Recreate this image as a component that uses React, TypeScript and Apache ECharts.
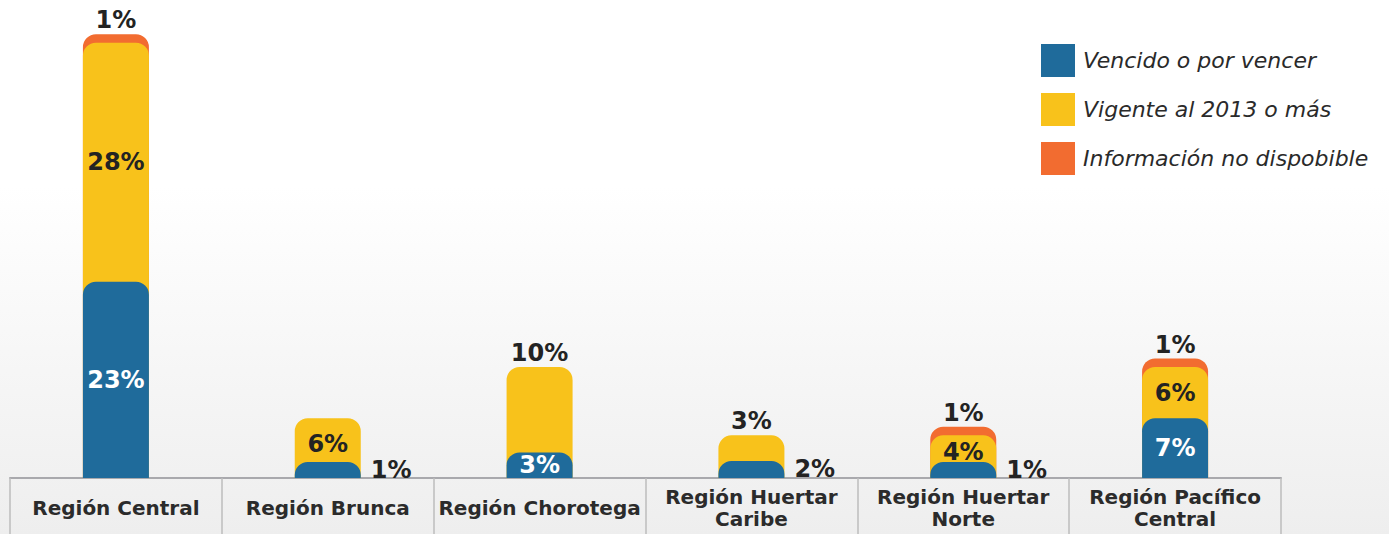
import React, { useEffect, useRef } from 'react';
import * as echarts from 'echarts';

const categories = [
  'Región Central',
  'Región Brunca',
  'Región Chorotega',
  'Región Huertar\nCaribe',
  'Región Huertar\nNorte',
  'Región Pacífico\nCentral',
];
const seriesNames = ['Vencido o por vencer', 'Vigente al 2013 o más', 'Información no dispobible'];
const vencido = [23, 1, 3, 2, 1, 7];
const vigente = [28, 6, 10, 3, 4, 6];
const noDisponible = [1, 0, 0, 0, 1, 1];

const BLUE = '#1f6b9b';
const YELLOW = '#f8c21b';
const ORANGE = '#f26c30';
const DARK = '#232323';
const FONT = '"DejaVu Sans", "Open Sans", sans-serif';

// label placement for the yellow segment: above the bar in these categories
const yellowAbove = [false, false, true, true, false, false];

export default function App() {
  const ref = useRef<HTMLDivElement>(null);
  useEffect(() => {
    if (!ref.current) return;
    const chart = echarts.init(ref.current, null, { renderer: 'svg' });
    const cumYellow = vencido.map((v, i) => v + vigente[i]);
    const cumOrange = cumYellow.map((v, i) => (noDisponible[i] > 0 ? v + noDisponible[i] : '-'));
    const labelBase = { fontFamily: FONT, fontSize: 24, fontWeight: 'bold' as const, color: DARK };
    const common = { type: 'bar' as const, barWidth: 66, barGap: '-100%' };
    const radius = [13, 13, 0, 0];

    chart.setOption({
      animation: false,
      grid: { left: 10, right: 108, top: 0, bottom: 56 },
      legend: {
        orient: 'vertical',
        left: 1041,
        top: 44,
        padding: 0,
        itemWidth: 34,
        itemHeight: 33,
        itemGap: 16,
        icon: 'rect',
        data: seriesNames,
        textStyle: { fontFamily: FONT, fontStyle: 'italic', fontSize: 22, color: '#2a2a2a', padding: [0, 0, 0, 3] },
      },
      xAxis: {
        type: 'category',
        data: categories,
        axisLine: { show: true, lineStyle: { color: '#a9a9ad', width: 2 } },
        axisTick: { show: true, length: 56, interval: 0, lineStyle: { color: '#bcbcbc', width: 1.5 } },
        axisLabel: {
          interval: 0,
          margin: 30,
          verticalAlign: 'middle',
          fontFamily: FONT,
          fontSize: 20,
          fontWeight: 'bold',
          lineHeight: 22,
          color: '#2b2b2b',
        },
      },
      yAxis: {
        type: 'value',
        min: 0,
        max: 56,
        show: false,
        splitLine: { show: false },
      },
      series: [
        {
          ...common,
          name: seriesNames[2],
          data: cumOrange,
          itemStyle: { color: ORANGE, borderRadius: radius },
          label: {
            show: true,
            position: 'top',
            distance: 2,
            ...labelBase,
            formatter: (p: any) => noDisponible[p.dataIndex] + '%',
          },
        },
        {
          ...common,
          name: seriesNames[1],
          data: cumYellow.map((v, i) => ({
            value: v,
            label: yellowAbove[i]
              ? { show: true, position: 'top', distance: 2, ...labelBase, formatter: vigente[i] + '%' }
              : { show: false },
          })),
          itemStyle: { color: YELLOW, borderRadius: radius },
        },
        {
          ...common,
          name: seriesNames[0],
          data: vencido.map((v) => ({
            value: v,
            label:
              v <= 2
                ? { show: true, position: 'right', distance: 10, ...labelBase, formatter: v + '%' }
                : { show: true, position: 'inside', ...labelBase, color: '#ffffff', formatter: v + '%' },
          })),
          barMinHeight: 16,
          itemStyle: { color: BLUE, borderRadius: radius },
        },
        {
          ...common,
          name: '_base',
          stack: 'lbl',
          silent: true,
          data: vencido,
          itemStyle: { color: 'transparent' },
          label: { show: false },
        },
        {
          ...common,
          name: '_lbl',
          stack: 'lbl',
          silent: true,
          data: vigente.map((v, i) => ({
            value: v,
            label: yellowAbove[i]
              ? { show: false }
              : { show: true, position: 'inside', ...labelBase, formatter: v + '%' },
          })),
          itemStyle: { color: 'transparent' },
        },
      ],
    });
    return () => chart.dispose();
  }, []);

  return (
    <div
      ref={ref}
      style={{
        position: 'fixed',
        left: 0,
        top: 0,
        width: 1389,
        height: 534,
        background: 'linear-gradient(180deg, #ffffff 0%, #ffffff 35%, #eeeeee 100%)',
      }}
    />
  );
}
